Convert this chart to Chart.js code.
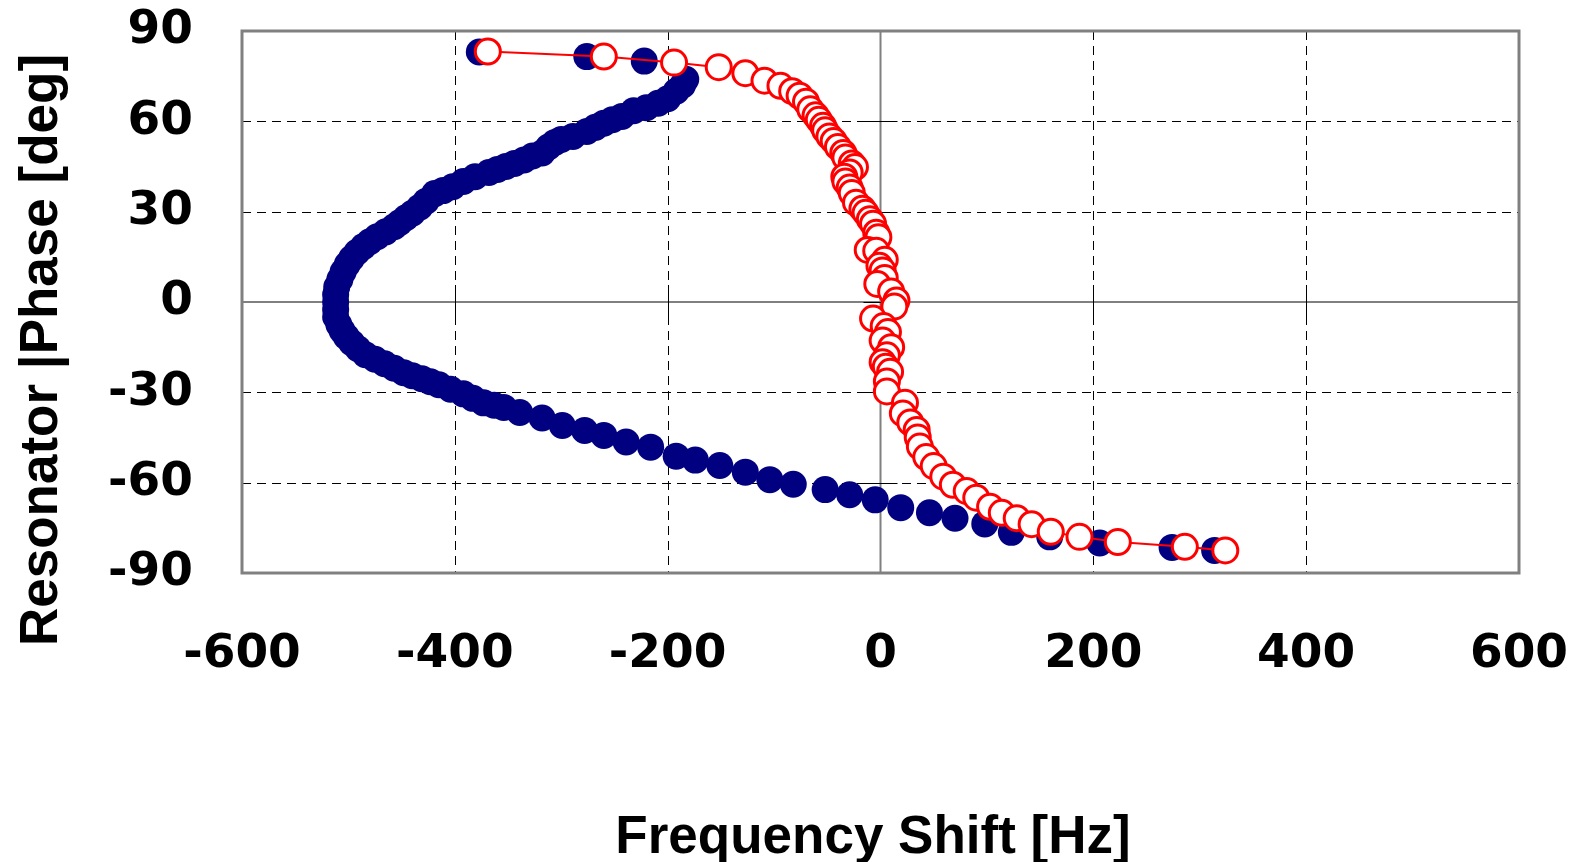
<!DOCTYPE html>
<html>
<head>
<meta charset="utf-8">
<title>Resonator phase vs frequency shift</title>
<script src="https://cdn.jsdelivr.net/npm/chart.js@4.4.1/dist/chart.umd.min.js"></script>
<style>
  html, body { margin: 0; padding: 0; background: #fff; }
  #wrap { width: 1578px; height: 862px; }
</style>
</head>
<body>
<div id="wrap"><canvas id="phaseChart" width="1578" height="862"></canvas></div>
<script>
// frequency shift [Hz] / phase [deg], filled navy markers
const shiftA = [
  -377, -276, -222, -183, -186, -192, -200, -209, -220, -232, -243, -252, -260, -268, -276,
  -289, -300, -306, -312, -318, -327, -335, -344, -352, -360, -368, -381, -392, -402, -411,
  -419, -427, -433, -440, -446, -452, -457, -465, -473, -480, -486, -492, -497, -501, -505,
  -508, -511, -512, -512, -512, -512, -509, -506, -502, -497, -491, -484, -475, -466, -457,
  -448, -440, -431, -423, -415, -404, -392, -383, -373, -363, -354, -339, -318, -299, -278,
  -260, -239, -216, -192, -174, -151, -127, -104, -82, -52, -29, -5, 19, 46, 70,
  98, 123, 159, 206, 274, 314
];
const phaseA = [
  83, 81.5, 80, 74, 72, 70, 67.5, 66, 64.5, 63.5, 61.6, 60.5, 59.4, 58, 56.6,
  55, 54, 53, 51.5, 49.5, 48.5, 47.2, 46, 45, 44, 43, 41.6, 40, 38.3, 37,
  36, 33.5, 31.5, 29.5, 28, 26.3, 25, 23.3, 21.7, 20, 18.4, 16.5, 14.5, 12.5, 10,
  7.5, 5, 2.5, 0, -2.5, -5, -7.5, -9.5, -11.5, -13.5, -15.5, -17.5, -19, -20.5, -22,
  -23.5, -24.5, -25.5, -26.5, -27.5, -29, -30.5, -32, -33.5, -34.3, -35, -36.7, -38.5, -41, -42.7,
  -44.3, -46.5, -48.2, -51.2, -52.5, -54.3, -56.5, -59, -60.5, -62.3, -64, -65.7, -68.3, -70, -71.8,
  -73.7, -76.5, -78, -80, -81.5, -82.5
];

// open red markers joined by a thin line
const shiftB = [
  -369, -260, -194, -152, -127, -109, -94, -83, -76, -70, -66, -61, -58, -54, -52,
  -48, -44, -40, -35, -33, -27, -24, -29, -34, -33, -29, -27, -23, -17, -14,
  -10, -7, -4, -2, -12, -4, 4, -1, 2, 4, -3, 10, 15, 13, -7,
  3, 7, 2, 10, 6, 2, 5, 9, 6, 6, 23, 21, 28, 34, 35,
  37, 43, 50, 59, 68, 81, 90, 103, 114, 128, 142, 160, 187, 223, 286,
  324
];
const phaseB = [
  83.2, 81.5, 79.5, 78, 76, 73.5, 71.8, 70, 68.5, 66.5, 64, 62, 60.5, 58.5, 57,
  55, 53.5, 51.5, 49.5, 48, 46, 44.8, 43, 41.6, 40, 38, 36.2, 33, 31, 29.6,
  27.5, 26, 23, 21.5, 17.3, 17, 14, 12, 10.5, 8, 6, 3.5, 0.5, -1.5, -5.5,
  -8, -10, -12.8, -15, -17.7, -20, -21.5, -23.2, -26.4, -29.7, -33.5, -37, -40, -42.5, -45,
  -48, -51.5, -54.5, -58, -60.7, -62.8, -65, -68, -70, -71.8, -73.8, -76.3, -78, -79.7, -81.3,
  -82.5
];

const xTicks = [-600, -400, -200, 0, 200, 400, 600];
const yTicks = [-90, -60, -30, 0, 30, 60, 90];

const xTitle = "Frequency Shift [Hz]";
const yTitle = "Resonator |Phase [deg]";

const FONT = "'Liberation Sans', Arial, sans-serif";
const TICK_FONT = "'DejaVu Sans', sans-serif";

const toPoints = (xs, ys) => xs.map((x, i) => ({ x: x, y: ys[i] }));

// dashed grid, solid zero axes with crossing ticks, grey frame, titles
const framePlugin = {
  id: "frame",
  beforeDatasetsDraw(chart) {
    const { ctx, chartArea: a, scales } = chart;
    const xs = scales.x, ys = scales.y;
    const x0 = xs.getPixelForValue(0), y0 = ys.getPixelForValue(0);
    ctx.save();
    ctx.lineWidth = 1;
    ctx.strokeStyle = "#000";
    ctx.setLineDash([9, 6]);
    xTicks.forEach((v) => {
      if (v === 0 || v === xTicks[0] || v === xTicks[xTicks.length - 1]) return;
      const px = Math.round(xs.getPixelForValue(v)) + 0.5;
      ctx.beginPath();
      ctx.moveTo(px, a.top);
      ctx.lineTo(px, a.bottom);
      ctx.stroke();
    });
    yTicks.forEach((v) => {
      if (v === 0 || v === yTicks[0] || v === yTicks[yTicks.length - 1]) return;
      const py = Math.round(ys.getPixelForValue(v)) + 0.5;
      ctx.beginPath();
      ctx.moveTo(a.left, py);
      ctx.lineTo(a.right, py);
      ctx.stroke();
    });
    ctx.setLineDash([]);

    // zero axes
    ctx.strokeStyle = "#808080";
    ctx.lineWidth = 2;
    ctx.beginPath();
    ctx.moveTo(a.left, y0);
    ctx.lineTo(a.right, y0);
    ctx.moveTo(x0, a.top);
    ctx.lineTo(x0, a.bottom);
    ctx.stroke();

    // crossing tick marks on the zero axes
    ctx.strokeStyle = "#000";
    ctx.lineWidth = 1;
    ctx.beginPath();
    yTicks.forEach((v) => {
      const py = Math.round(ys.getPixelForValue(v)) + 0.5;
      ctx.moveTo(x0 - 17, py);
      ctx.lineTo(x0 + 17, py);
    });
    xTicks.forEach((v) => {
      const px = Math.round(xs.getPixelForValue(v)) + 0.5;
      ctx.moveTo(px, y0 - 17);
      ctx.lineTo(px, y0 + 17);
    });
    ctx.stroke();

    // plot frame
    ctx.strokeStyle = "#808080";
    ctx.lineWidth = 3;
    ctx.strokeRect(a.left, a.top, a.right - a.left, a.bottom - a.top);
    ctx.restore();
  },
  afterDraw(chart) {
    const { ctx } = chart;
    ctx.save();
    ctx.fillStyle = "#000";
    ctx.font = "bold 53px " + FONT;
    ctx.textAlign = "center";
    ctx.textBaseline = "alphabetic";
    ctx.fillText(xTitle, 873, 853);
    ctx.translate(57, 350);
    ctx.rotate(-Math.PI / 2);
    ctx.fillText(yTitle, 0, 0);
    ctx.restore();
  },
};

const ctx = document.getElementById("phaseChart").getContext("2d");

const phaseChart = new Chart(ctx, {
  type: "scatter",
  data: {
    datasets: [
      {
        label: "B",
        data: toPoints(shiftB, phaseB),
        showLine: true,
        borderColor: "#FF0000",
        borderWidth: 2,
        pointRadius: 12.5,
        pointBorderWidth: 3,
        pointBorderColor: "#FF0000",
        pointBackgroundColor: "#FFFFFF",
        order: 0,
      },
      {
        label: "A",
        data: toPoints(shiftA, phaseA),
        showLine: false,
        pointRadius: 13.5,
        pointBorderWidth: 0,
        pointBackgroundColor: "#000080",
        pointBorderColor: "#000080",
        order: 1,
      },
    ],
  },
  options: {
    responsive: false,
    animation: false,
    layout: {
      padding: { left: 0, top: 31, right: 59, bottom: 0 },
    },
    plugins: {
      legend: { display: false },
      tooltip: { enabled: false },
    },
    scales: {
      x: {
        type: "linear",
        min: -600,
        max: 600,
        afterBuildTicks: (scale) => {
          scale.ticks = xTicks.map((v) => ({ value: v }));
        },
        afterFit: (scale) => {
          scale.height = 289;
          scale.paddingLeft = 0;
          scale.paddingRight = 0;
        },
        grid: { display: false, drawTicks: false },
        border: { display: false },
        ticks: {
          padding: 54,
          color: "#000",
          font: { family: TICK_FONT, size: 47, weight: "bold" },
        },
      },
      y: {
        type: "linear",
        min: -90,
        max: 90,
        afterBuildTicks: (scale) => {
          scale.ticks = yTicks.map((v) => ({ value: v }));
        },
        afterFit: (scale) => {
          scale.width = 242;
          scale.paddingTop = 0;
          scale.paddingBottom = 0;
        },
        grid: { display: false, drawTicks: false },
        border: { display: false },
        ticks: {
          padding: 49,
          color: "#000",
          font: { family: TICK_FONT, size: 47, weight: "bold" },
        },
      },
    },
  },
  plugins: [framePlugin],
});
</script>
</body>
</html>
